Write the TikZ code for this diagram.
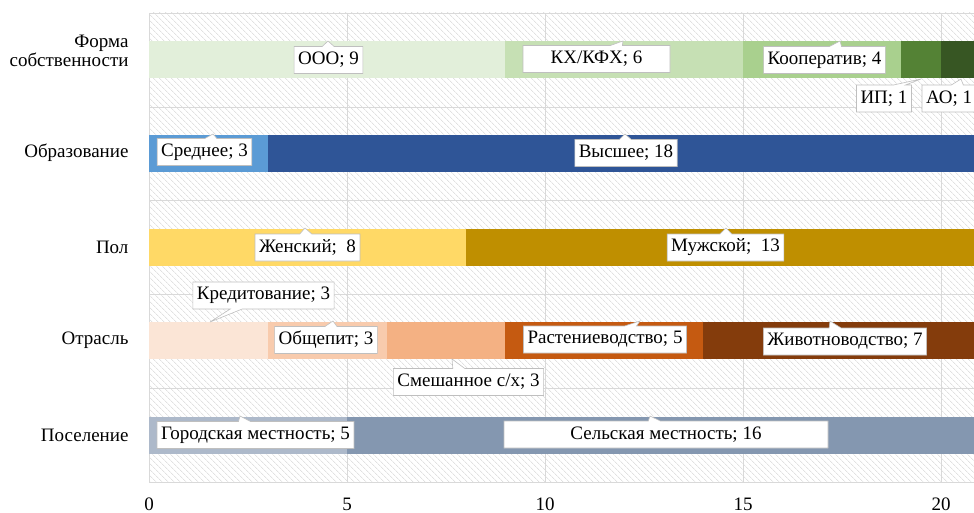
\documentclass[tikz,border=0pt]{standalone}
\usepackage{fontspec}
\setmainfont{Liberation Serif}
\usetikzlibrary{patterns.meta}
\usetikzlibrary{shapes.callouts}

\definecolor{ooo}{HTML}{E2EFDA}
\definecolor{kfh}{HTML}{C6E0B4}
\definecolor{koop}{HTML}{A9D08E}
\definecolor{ip}{HTML}{548235}
\definecolor{ao}{HTML}{375623}
\definecolor{sred}{HTML}{5B9BD5}
\definecolor{vys}{HTML}{2F5597}
\definecolor{zhen}{HTML}{FFD966}
\definecolor{muzh}{HTML}{BF8F00}
\definecolor{kred}{HTML}{FBE5D6}
\definecolor{obsh}{HTML}{F8CBAD}
\definecolor{smesh}{HTML}{F4B183}
\definecolor{rast}{HTML}{C55A11}
\definecolor{zhiv}{HTML}{843C0C}
\definecolor{gor}{HTML}{ADB9CA}
\definecolor{sel}{HTML}{8497B0}

\begin{document}
\begin{tikzpicture}[x=1pt,y=-1pt,
    font=\fontsize{19}{22}\selectfont,
    lbl/.style={rectangle callout,fill=white,draw=black!25,line width=0.6pt,
      inner xsep=4pt,inner ysep=0pt,minimum height=27pt,callout pointer width=12pt},
    cat/.style={anchor=east,align=right},
    gridline/.style={draw=black!15,line width=0.8pt}]
  \useasboundingbox (0,0) rectangle (974,513);
  \clip (0,0) rectangle (974,513);

  % hatched plot area
  \fill[pattern={Lines[angle=-45,distance=4pt,line width=0.5pt]},pattern color=black!18]
    (149,13) rectangle (974,482);
  \foreach \y in {13,107,200,294,388,482}
    \draw[gridline] (149,\y) -- (974,\y);

  \begin{scope}[xshift=149pt,x=39.6pt]
    \foreach \v in {0,5,...,20}
      \draw[gridline] (\v,13) -- (\v,482);
    % stacked bars
    \foreach \a/\b/\t/\c in {0/9/41/ooo,9/15/41/kfh,15/19/41/koop,19/20/41/ip,20/21/41/ao,
        0/3/135/sred,3/21/135/vys,
        0/8/229/zhen,8/21/229/muzh,
        0/3/322/kred,3/6/322/obsh,6/9/322/smesh,9/14/322/rast,14/21/322/zhiv,
        0/5/417/gor,5/21/417/sel}
      \fill[\c] (\a,\t) rectangle (\b,\t+37);
    % axis
    \foreach \v in {0,5,...,20}
      \node[inner sep=0pt] (tick\v) at (\v,504) {\v};
  \end{scope}

  % categories
  \node[cat,font=\fontsize{19}{17}\selectfont] (forma) at (132,51) {Форма\\собственности};
  \node[cat] (obraz) at (132,153) {Образование};
  \node[cat] (pol) at (132,247) {Пол};
  \node[cat] (otrasl) at (132,340) {Отрасль};
  \node[cat] (posel) at (132,435) {Поселение};

  % data labels
  \node[lbl,callout absolute pointer={(328,41)}] (looo) at (328.5,60) {ООО; 9};
  \node[lbl,minimum width=147pt,callout absolute pointer={(623,41)}] (lkfh) at (596.5,59) {КХ/КФХ; 6};
  \node[lbl,callout absolute pointer={(840,41)}] (lkoop) at (824.5,60) {Кооператив; 4};
  \node[lbl,callout absolute pointer={(921,79)}] (lip) at (884,98.5) {ИП; 1};
  \node[lbl,callout absolute pointer={(961,79)}] (lao) at (949,98.5) {АО; 1};
  \node[lbl,callout absolute pointer={(213,134)}] (lsred) at (204.5,152) {Среднее; 3};
  \node[lbl,callout absolute pointer={(625,134)}] (lvys) at (626,153) {Высшее; 18};
  \node[lbl,callout absolute pointer={(305,228)}] (lzhen) at (307.5,247.5) {Женский;~ 8};
  \node[lbl,callout absolute pointer={(726,228)}] (lmuzh) at (725.5,247.5) {Мужской;~ 13};
  \node[lbl,callout absolute pointer={(210,322)}] (lkred) at (263.5,295.5) {Кредитование; 3};
  \node[lbl,callout absolute pointer={(333,321)}] (lobsh) at (326,340) {Общепит; 3};
  \node[lbl,callout absolute pointer={(452,359)}] (lsmesh) at (468.5,382) {Смешанное с/х; 3};
  \node[lbl,callout absolute pointer={(640,321)}] (lrast) at (605,339.5) {Растениеводство; 5};
  \node[lbl,callout absolute pointer={(830,321)}] (lzhiv) at (845,341.5) {Животноводство; 7};
  \node[lbl,callout absolute pointer={(240,416)}] (lgor) at (255.5,435) {Городская местность; 5};
  \node[lbl,minimum width=324pt,callout absolute pointer={(650,416)}] (lsel) at (666,434.5) {Сельская местность; 16};
\end{tikzpicture}
\end{document}
